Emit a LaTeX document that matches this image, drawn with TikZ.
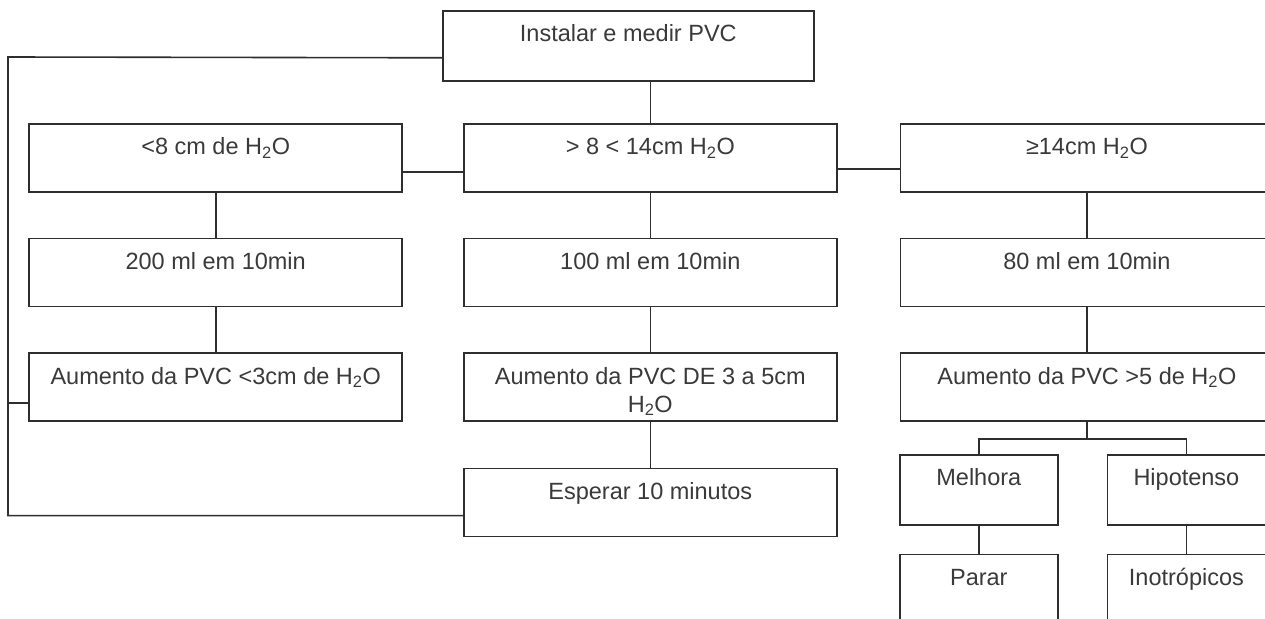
\documentclass[tikz,border=0pt]{standalone}
\usepackage{fontspec}
\setmainfont{Liberation Sans}
\usepackage{xcolor}
\usepackage{tikz}
\usetikzlibrary{positioning,calc}

\definecolor{ink}{HTML}{2E2E2E}
\definecolor{txt}{HTML}{3A3A3A}

\begin{document}
\begin{tikzpicture}[
  x=1pt, y=-1pt,
  node distance=45pt and 60pt,
  blk/.style={draw=ink, line width=1.6pt, inner sep=0pt, align=center,
              minimum height=68pt, text height=31pt, text depth=37pt,
              font=\fontsize{23.5}{28}\selectfont, text=txt},
  wide/.style={blk, minimum width=373pt},
  small/.style={blk, minimum width=158pt, minimum height=70pt,
                text depth=39pt},
  ln/.style={draw=ink, line width=1.6pt}
]
\useasboundingbox (0,0) rectangle (1265,618);
\clip (0,0) rectangle (1265,618);
\fill[white] (0,0) rectangle (1265,618);
% top of the chart
\node[blk, minimum width=371pt, minimum height=70pt, text depth=39pt,
      anchor=north west] (top) at (442,10) {Instalar e medir PVC};
% three columns
\node[wide, anchor=north west] (md1) at (463,123) {> 8 < 14cm H\textsubscript{2}O};
\node[wide, left=of md1]        (lt1) {<8 cm de H\textsubscript{2}O};
\node[wide, right=62pt of md1]  (rt1) {≥14cm H\textsubscript{2}O};
\node[wide, below=of lt1] (lt2) {200 ml em 10min};
\node[wide, below=of md1] (md2) {100 ml em 10min};
\node[wide, below=of rt1] (rt2) {80 ml em 10min};
\node[wide, below=of lt2] (lt3) {Aumento da PVC <3cm de H\textsubscript{2}O};
\node[wide, below=of md2, text height=59pt, text depth=9pt] (md3)
  {Aumento da PVC DE 3 a 5cm\\H\textsubscript{2}O};
\node[wide, below=of rt2] (rt3) {Aumento da PVC >5 de H\textsubscript{2}O};
\node[wide, below=46pt of md3] (wait) {Esperar 10 minutos};
% last branch
\node[small, anchor=north west] (mel) at (899,454) {Melhora};
\node[small, right=48pt of mel] (hip) {Hipotenso};
\node[small, below=28pt of mel, minimum height=66pt, text depth=35pt] (par) {Parar};
\node[small, below=28pt of hip, minimum height=66pt, text depth=35pt] (ino) {Inotrópicos};
\coordinate (lp) at (8,57);
\coordinate (fork) at ([yshift=-17pt]rt3.south);
\draw[ln] (top.south -| md1.north) -- (md1.north);
\draw[ln] ([yshift=-14pt]lt1.east) -- ([yshift=-14pt]lt1.east -| md1.west);
\draw[ln] ([yshift=-11pt]md1.east) -- ([yshift=-11pt]md1.east -| rt1.west);
\draw[ln] (lt1) -- (lt2);
\draw[ln] (lt2) -- (lt3);
\draw[ln] (md1) -- (md2);
\draw[ln] (md2) -- (md3);
\draw[ln] (md3) -- (wait);
\draw[ln] (rt1) -- (rt2);
\draw[ln] (rt2) -- (rt3);
\draw[ln] ([yshift=-12pt]top.west) -- (lp) |- ([yshift=-13pt]wait.west);
\draw[ln] ([yshift=-16pt]lt3.west) -- ([yshift=-16pt]lt3.west -| lp);
\draw[ln] (rt3) -- (fork);
\draw[ln] (mel.north) |- (fork) -| (hip.north);
\draw[ln] (mel) -- (par);
\draw[ln] (hip) -- (ino);
\end{tikzpicture}
\end{document}
